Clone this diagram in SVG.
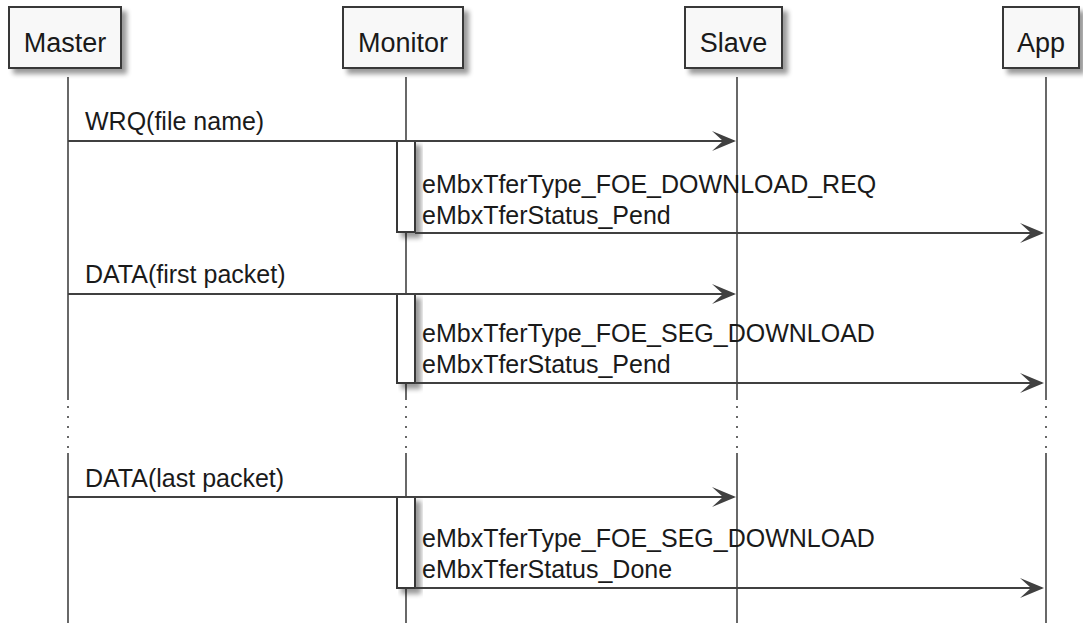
<svg xmlns="http://www.w3.org/2000/svg" width="1083" height="623" viewBox="0 0 1083 623">
<defs>
<filter id="sh" x="-20%" y="-20%" width="160%" height="160%">
<feGaussianBlur in="SourceAlpha" stdDeviation="2.5"/>
<feOffset dx="5" dy="5" result="b"/>
<feComponentTransfer><feFuncA type="linear" slope="0.4"/></feComponentTransfer>
<feMerge><feMergeNode/><feMergeNode in="SourceGraphic"/></feMerge>
</filter>
<polygon id="ah" points="0,0 -24,-10 -13,0 -24,10"/>
</defs>
<style>
.box{fill:#F8F8F8;stroke:#383838;stroke-width:2;filter:url(#sh)}
.act{fill:#FFFFFF;stroke:#383838;stroke-width:2;filter:url(#sh)}
.pt{font-family:"Liberation Sans",Arial,sans-serif;font-size:27px;fill:#1a1a1a;text-anchor:middle}
.mt{font-family:"Liberation Sans",Arial,sans-serif;font-size:25px;fill:#1a1a1a}
.life{stroke:#444;stroke-width:1.6;fill:none}
.dot{stroke:#444;stroke-width:1.6;stroke-dasharray:2 8;fill:none}
.msg{stroke:#404040;stroke-width:2;fill:none}
.head{fill:#404040}
</style>
<g id="lifelines">
<path class="life" d="M68,77V400M68,453V623M406,77V400M406,453V623M737,77V400M737,453V623M1046,77V400M1046,453V623"/>
<path class="dot" d="M68,406V452M406,406V452M737,406V452M1046,406V452"/>
</g>
<g id="master"><rect class="box" x="9" y="7" width="112" height="61"/><text class="pt" x="65" y="52">Master</text></g>
<g id="monitor"><rect class="box" x="343" y="7" width="120" height="61"/><text class="pt" x="403" y="52">Monitor</text></g>
<g id="slave"><rect class="box" x="685" y="7" width="97" height="61"/><text class="pt" x="733.5" y="52">Slave</text></g>
<g id="app"><rect class="box" x="1003" y="7" width="76" height="61"/><text class="pt" x="1041" y="52">App</text></g>
<g id="activations">
<rect class="act" x="397" y="141" width="18" height="91"/>
<rect class="act" x="397" y="294" width="18" height="89"/>
<rect class="act" x="397" y="497" width="18" height="91"/>
</g>
<g id="connectors">
<path class="msg" d="M68,141H734M415,233H1042M68,294H734M415,383H1042M68,497H734M415,588H1042"/>
<use href="#ah" class="head" x="736" y="141"/>
<use href="#ah" class="head" x="1044" y="233"/>
<use href="#ah" class="head" x="736" y="294"/>
<use href="#ah" class="head" x="1044" y="383"/>
<use href="#ah" class="head" x="736" y="497"/>
<use href="#ah" class="head" x="1044" y="588"/>
</g>
<g id="labels">
<text class="mt" x="85" y="130">WRQ(file name)</text>
<text class="mt" x="422" y="193">eMbxTferType_FOE_DOWNLOAD_REQ</text>
<text class="mt" x="422" y="224">eMbxTferStatus_Pend</text>
<text class="mt" x="85" y="283">DATA(first packet)</text>
<text class="mt" x="422" y="342">eMbxTferType_FOE_SEG_DOWNLOAD</text>
<text class="mt" x="422" y="373">eMbxTferStatus_Pend</text>
<text class="mt" x="85" y="487">DATA(last packet)</text>
<text class="mt" x="422" y="547">eMbxTferType_FOE_SEG_DOWNLOAD</text>
<text class="mt" x="422" y="578">eMbxTferStatus_Done</text>
</g>
</svg>
